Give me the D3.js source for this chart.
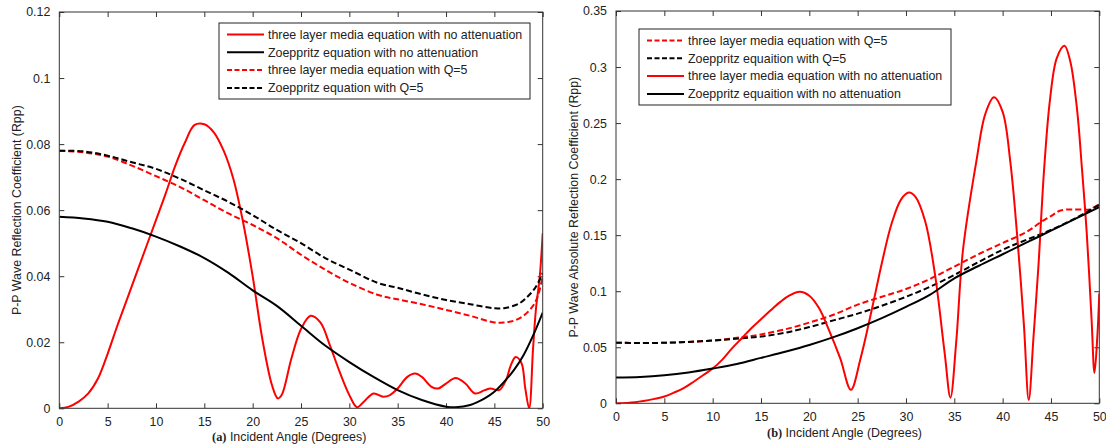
<!DOCTYPE html>
<html>
<head>
<meta charset="utf-8">
<script src="https://cdn.jsdelivr.net/npm/d3@7"></script>
<style>
  html, body { margin: 0; padding: 0; background: #fff; }
  svg { display: block; font-family: Arial, "Liberation Sans", sans-serif; }
</style>
</head>
<body>
<svg id="chart" width="1106" height="446"></svg>
<script>
// ---------------- DATA ----------------
// Panel (a)
const aRedSolidX = [0,1,2,3,4,5,6,7,8,9,10,11,12,13,14,15,16,17,18,19,20,21,22,22.6,23,24,25,26,27,28,29,30,30.8,31.5,32.5,33.5,34.2,35,36,36.8,37.5,38.5,39.2,40,41,42,43,44,44.6,45.5,46.2,46.7,47.2,47.8,48.2,48.6,49,49.3,49.7,50];
const aRedSolidY = [0,0.0005,0.002,0.0045,0.009,0.0165,0.025,0.033,0.041,0.049,0.057,0.065,0.0735,0.0805,0.0858,0.086,0.0835,0.078,0.0695,0.0565,0.040,0.021,0.007,0.003,0.004,0.015,0.024,0.028,0.026,0.019,0.011,0.004,0.0003,0.002,0.0045,0.0035,0.004,0.006,0.0095,0.0105,0.0095,0.0065,0.006,0.0075,0.0092,0.0075,0.0045,0.0055,0.006,0.0055,0.0085,0.013,0.0155,0.0137,0.006,0.0,0.018,0.030,0.040,0.053];
const aBlackSolidX = [0,2.5,5,7.5,10,12.5,15,17.5,20,22.5,25,27.5,30,32.5,35,37.5,40,41,42.5,44,45,46,47,48,49,50];
const aBlackSolidY = [0.058,0.0575,0.0565,0.0545,0.052,0.049,0.0455,0.041,0.0357,0.031,0.025,0.019,0.014,0.0095,0.0055,0.0025,0.0005,0.0003,0.001,0.003,0.005,0.008,0.0115,0.016,0.022,0.029];
const aRedDashX = [0,2.5,5,7.5,10,12.5,15,17.5,20,22.5,25,27.5,30,33,35,37.5,40,42.5,45,46,47,48,49,49.5,50];
const aRedDashY = [0.078,0.0775,0.0762,0.0735,0.0703,0.067,0.063,0.059,0.0555,0.0515,0.0465,0.042,0.038,0.0343,0.033,0.0315,0.0298,0.028,0.026,0.026,0.0265,0.028,0.031,0.034,0.040];
const aBlackDashX = [0,2.5,5,7.5,10,12.5,15,17.5,20,22.5,25,27.5,30,33,35,37.5,40,42.5,45,46,47.6,48.5,49.3,50];
const aBlackDashY = [0.078,0.0778,0.0765,0.0745,0.0725,0.0695,0.066,0.0625,0.0585,0.054,0.050,0.0455,0.042,0.0379,0.0365,0.0345,0.0328,0.0315,0.0303,0.0303,0.0318,0.034,0.0368,0.041];

// Panel (b)
const bRedSolidX = [0,2,4,5,6,7,8,9,10,11,12,13,14,15,16,17,18,19,20,21,22,23.2,24.3,25.3,26.5,27.5,28.5,29.5,30.3,31,32,33,34,34.6,35.2,35.9,37.3,38.2,39.1,40,40.8,41.5,42.2,42.7,43.2,43.7,44.3,44.9,45.6,46.4,47,47.7,48.2,48.7,49.2,49.5,49.8,50];
const bRedSolidY = [0,0.001,0.004,0.006,0.0095,0.0135,0.019,0.025,0.031,0.039,0.049,0.058,0.067,0.075,0.083,0.0905,0.0965,0.0995,0.096,0.085,0.066,0.040,0.012,0.040,0.085,0.125,0.160,0.182,0.188,0.184,0.162,0.115,0.045,0.005,0.055,0.137,0.217,0.258,0.273,0.260,0.215,0.150,0.070,0.003,0.060,0.122,0.210,0.271,0.308,0.319,0.305,0.262,0.210,0.152,0.075,0.027,0.060,0.098];
const bBlackSolidX = [0,2.5,5,7.5,10,12.5,15,17.5,20,22.5,25,27.5,30,32.5,35,37.5,40,42.5,45,47.5,50];
const bBlackSolidY = [0.023,0.0235,0.025,0.0275,0.031,0.035,0.0405,0.046,0.052,0.059,0.067,0.076,0.086,0.097,0.1115,0.1225,0.133,0.1435,0.154,0.1645,0.175];
const bRedDashX = [0,5,10,13,15,17.5,20,22.5,25,27.5,30,32.5,35,37.5,40,42.5,44,45,46,48,49,50];
const bRedDashY = [0.054,0.054,0.056,0.059,0.0615,0.066,0.072,0.079,0.088,0.095,0.102,0.111,0.122,0.133,0.143,0.153,0.162,0.167,0.172,0.173,0.173,0.178];
const bBlackDashX = [0,5,10,13,15,17.5,20,22.5,25,27.5,30,32.5,35,37.5,40,42.5,45,47.5,50];
const bBlackDashY = [0.054,0.054,0.056,0.058,0.0595,0.063,0.068,0.074,0.080,0.087,0.095,0.104,0.1145,0.126,0.137,0.146,0.1546,0.165,0.177];

// Tick labels
const xTickValues = [0,5,10,15,20,25,30,35,40,45,50];
const xTickLabels = ["0","5","10","15","20","25","30","35","40","45","50"];
const aYTickValues = [0,0.02,0.04,0.06,0.08,0.1,0.12];
const aYTickLabels = ["0","0.02","0.04","0.06","0.08","0.1","0.12"];
const bYTickValues = [0,0.05,0.1,0.15,0.2,0.25,0.3,0.35];
const bYTickLabels = ["0","0.05","0.1","0.15","0.2","0.25","0.3","0.35"];

// Legend labels
const aLegendLabels = ["three layer media equation with no attenuation","Zoeppritz equation with no attenuation","three layer media equation with Q=5","Zoeppritz equation with Q=5"];
const bLegendLabels = ["three layer media equation with Q=5","Zoeppritz equaition with Q=5","three layer media equation with no attenuation","Zoeppritz equaition with no attenuation"];

// Axis titles
const aYTitle = "P-P Wave Reflection Coefficient (Rpp)";
const bYTitle = "P-P Wave Absolute Reflection Coefficient (Rpp)";
const xTitleTag = ["(a)","(b)"];
const xTitleText = " Incident Angle (Degrees)";

// ---------------- DRAW ----------------
const svg = d3.select("#chart");
const RED = "#ff0000", BLACK = "#000000";
const FS = 12.4;

function zip(xs, ys){ return xs.map((x,i)=>[x, ys[i]]); }

const panels = [
  { id:"a", left:59.3, right:542.7, top:12, bottom:408.3, yMax:0.12,
    yTicks:aYTickValues, yLabels:aYTickLabels, yTitle:aYTitle, yTitleX:21,
    tag:xTitleTag[0], xTitleX:212, xTitleY:441,
    series:[
      {x:aRedSolidX, y:aRedSolidY, color:RED, dash:null},
      {x:aBlackSolidX, y:aBlackSolidY, color:BLACK, dash:null},
      {x:aRedDashX, y:aRedDashY, color:RED, dash:"6,3"},
      {x:aBlackDashX, y:aBlackDashY, color:BLACK, dash:"6,3"}
    ],
    legend:{x0:219, y0:23, x1:530, y1:99, labels:aLegendLabels, order:[0,1,2,3]}
  },
  { id:"b", left:616, right:1099.3, top:11, bottom:403.3, yMax:0.35,
    yTicks:bYTickValues, yLabels:bYTickLabels, yTitle:bYTitle, yTitleX:578,
    tag:xTitleTag[1], xTitleX:767, xTitleY:437,
    series:[
      {x:bRedDashX, y:bRedDashY, color:RED, dash:"6,3"},
      {x:bBlackDashX, y:bBlackDashY, color:BLACK, dash:"6,3"},
      {x:bRedSolidX, y:bRedSolidY, color:RED, dash:null},
      {x:bBlackSolidX, y:bBlackSolidY, color:BLACK, dash:null}
    ],
    legend:{x0:639, y0:29, x1:951, y1:105, labels:bLegendLabels, order:[0,1,2,3]}
  }
];

panels.forEach(p => {
  const x = d3.scaleLinear().domain([0,50]).range([p.left, p.right]);
  const y = d3.scaleLinear().domain([0,p.yMax]).range([p.bottom, p.top]);
  const g = svg.append("g");

  const clipId = "clip-" + p.id;
  svg.append("clipPath").attr("id", clipId)
    .append("rect").attr("x", p.left).attr("y", p.top)
    .attr("width", p.right - p.left).attr("height", p.bottom - p.top);

  const axStyle = sel => {
    sel.select(".domain").remove();
    sel.selectAll(".tick line").attr("stroke", "#333");
    sel.selectAll(".tick text").attr("fill", "#222").attr("font-size", FS)
       .attr("font-family", "Arial, 'Liberation Sans', sans-serif");
  };
  g.append("g").attr("transform", `translate(0,${p.bottom})`)
    .call(d3.axisBottom(x).tickValues(xTickValues).tickSizeInner(-5).tickSizeOuter(0).tickPadding(9)
      .tickFormat((d,i)=>xTickLabels[i]))
    .call(axStyle);
  g.append("g").attr("transform", `translate(0,${p.top})`)
    .call(d3.axisTop(x).tickValues(xTickValues).tickSizeInner(-5).tickSizeOuter(0).tickFormat(""))
    .call(axStyle);
  g.append("g").attr("transform", `translate(${p.left},0)`)
    .call(d3.axisLeft(y).tickValues(p.yTicks).tickSizeInner(-5).tickSizeOuter(0).tickPadding(9)
      .tickFormat((d,i)=>p.yLabels[i]))
    .call(axStyle);
  g.append("g").attr("transform", `translate(${p.right},0)`)
    .call(d3.axisRight(y).tickValues(p.yTicks).tickSizeInner(-5).tickSizeOuter(0).tickFormat(""))
    .call(axStyle);

  const line = d3.line().x(d=>x(d[0])).y(d=>y(d[1])).curve(d3.curveCatmullRom.alpha(0.5));
  const sg = g.append("g").attr("clip-path", `url(#${clipId})`);
  p.series.forEach(s => {
    sg.append("path").datum(zip(s.x, s.y))
      .attr("d", line).attr("fill", "none")
      .attr("stroke", s.color).attr("stroke-width", 2)
      .attr("stroke-linejoin", "round")
      .attr("stroke-dasharray", s.dash);
  });

  g.append("rect").attr("x", p.left).attr("y", p.top)
    .attr("width", p.right - p.left).attr("height", p.bottom - p.top)
    .attr("fill", "none").attr("stroke", "#333").attr("stroke-width", 1);

  g.append("text")
    .attr("transform", `translate(${p.yTitleX},${(p.top+p.bottom)/2}) rotate(-90)`)
    .attr("text-anchor", "middle").attr("font-size", FS).attr("fill", "#222")
    .text(p.yTitle);

  const xt = g.append("text").attr("x", p.xTitleX).attr("y", p.xTitleY)
    .attr("font-size", FS).attr("fill", "#222");
  xt.append("tspan").attr("font-family", "'Liberation Serif', 'Times New Roman', serif")
    .attr("font-weight", "bold").text(p.tag);
  xt.append("tspan").text(xTitleText);

  const L = p.legend;
  const lg = g.append("g");
  lg.append("rect").attr("x", L.x0).attr("y", L.y0)
    .attr("width", L.x1 - L.x0).attr("height", L.y1 - L.y0)
    .attr("fill", "#fff").attr("stroke", "#222").attr("stroke-width", 1);
  L.order.forEach((si, i) => {
    const s = p.series[si];
    const cy = L.y0 + 11.5 + i * 17.8;
    lg.append("line").attr("x1", L.x0 + 8).attr("x2", L.x0 + 45)
      .attr("y1", cy).attr("y2", cy)
      .attr("stroke", s.color).attr("stroke-width", 2)
      .attr("stroke-dasharray", s.dash ? "5,2.5" : null);
    lg.append("text").attr("x", L.x0 + 49).attr("y", cy + 4.3)
      .attr("font-size", FS).attr("fill", "#222").text(L.labels[i]);
  });
});
</script>
</body>
</html>
